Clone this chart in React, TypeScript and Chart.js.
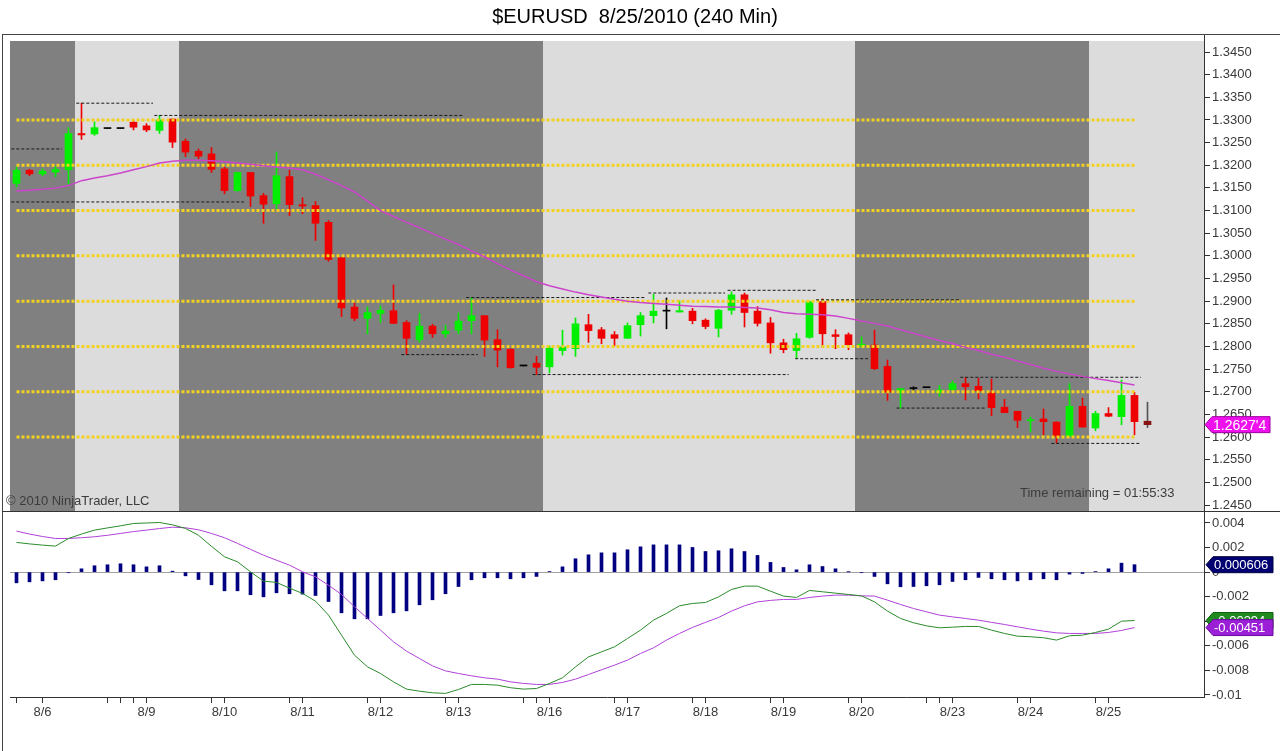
import React, { useEffect, useRef } from "react";
import { Chart, registerables } from "chart.js";

Chart.register(...registerables);

const FONT = '"Liberation Sans", Arial, sans-serif';
Chart.defaults.font.family = FONT;

// ---- data ----
const opens = [
  1.3160, 1.3189, 1.3181, 1.3185, 1.3190, 1.3270, 1.3269, 1.3281, 1.3281, 1.3295,
  1.3287, 1.3277, 1.3302, 1.3253, 1.3231, 1.3225, 1.3192, 1.3144, 1.3184, 1.3133,
  1.3115, 1.3175, 1.3113, 1.3111, 1.3074, 1.2996, 1.2887, 1.2862, 1.2873, 1.2879,
  1.2853, 1.2815, 1.2845, 1.2828, 1.2836, 1.2857, 1.2868, 1.2815, 1.2794, 1.2757,
  1.2763, 1.2755, 1.2791, 1.2795, 1.2848, 1.2837, 1.2826, 1.2818, 1.2848, 1.2868,
  1.2878, 1.2876, 1.2878, 1.2858, 1.2840, 1.2880, 1.2914, 1.2878, 1.2852, 1.2808,
  1.2791, 1.2820, 1.2899, 1.2826, 1.2826, 1.2802, 1.2803, 1.2756, 1.2699, 1.2707,
  1.2709, 1.2699, 1.2705, 1.2718, 1.2712, 1.2698, 1.2666, 1.2657, 1.2636, 1.2640,
  1.2633, 1.2602, 1.2668, 1.2620, 1.2652, 1.2645, 1.2692, 1.2635,
];
const highs = [
  1.3196, 1.3191, 1.3192, 1.3197, 1.3283, 1.3337, 1.3296, 1.3281, 1.3281, 1.3299,
  1.3292, 1.3310, 1.3303, 1.3258, 1.3236, 1.3239, 1.3196, 1.3185, 1.3184, 1.3138,
  1.3229, 1.3189, 1.3128, 1.3120, 1.3078, 1.2996, 1.2896, 1.2887, 1.2890, 1.2936,
  1.2857, 1.2873, 1.2849, 1.2847, 1.2874, 1.2908, 1.2868, 1.2837, 1.2795, 1.2757,
  1.2778, 1.2801, 1.2836, 1.2863, 1.2871, 1.2842, 1.2833, 1.2852, 1.2875, 1.2915,
  1.2907, 1.2901, 1.2884, 1.2861, 1.2882, 1.2921, 1.2918, 1.2888, 1.2864, 1.2816,
  1.2829, 1.2900, 1.2905, 1.2837, 1.2830, 1.2821, 1.2836, 1.2770, 1.2707, 1.2711,
  1.2709, 1.2714, 1.2724, 1.2732, 1.2730, 1.2728, 1.2683, 1.2657, 1.2644, 1.2662,
  1.2634, 1.2718, 1.2686, 1.2657, 1.2665, 1.2726, 1.2699, 1.2677,
];
const lows = [
  1.3152, 1.3177, 1.3177, 1.3175, 1.3159, 1.3257, 1.3266, 1.3281, 1.3281, 1.3278,
  1.3274, 1.3270, 1.3239, 1.3219, 1.3214, 1.3184, 1.3137, 1.3143, 1.3109, 1.3072,
  1.3104, 1.3089, 1.3093, 1.3034, 1.2988, 1.2866, 1.2857, 1.2828, 1.2853, 1.2851,
  1.2782, 1.2809, 1.2820, 1.2820, 1.2828, 1.2828, 1.2778, 1.2755, 1.2752, 1.2757,
  1.2738, 1.2742, 1.2781, 1.2778, 1.2809, 1.2806, 1.2801, 1.2818, 1.2823, 1.2852,
  1.2839, 1.2876, 1.2850, 1.2839, 1.2821, 1.2871, 1.2843, 1.2845, 1.2785, 1.2786,
  1.2774, 1.2818, 1.2798, 1.2795, 1.2793, 1.2798, 1.2749, 1.2681, 1.2664, 1.2703,
  1.2709, 1.2690, 1.2702, 1.2682, 1.2684, 1.2647, 1.2654, 1.2621, 1.2611, 1.2605,
  1.2587, 1.2601, 1.2622, 1.2614, 1.2645, 1.2627, 1.2605, 1.2621,
];
const closes = [
  1.3189, 1.3181, 1.3187, 1.3191, 1.3270, 1.3267, 1.3283, 1.3281, 1.3281, 1.3284,
  1.3278, 1.3300, 1.3251, 1.3229, 1.3220, 1.3191, 1.3144, 1.3184, 1.3132, 1.3114,
  1.3177, 1.3113, 1.3110, 1.3072, 1.2992, 1.2885, 1.2862, 1.2875, 1.2880, 1.2851,
  1.2818, 1.2845, 1.2828, 1.2834, 1.2856, 1.2868, 1.2814, 1.2792, 1.2753, 1.2757,
  1.2754, 1.2796, 1.2799, 1.2850, 1.2835, 1.2818, 1.2818, 1.2846, 1.2868, 1.2878,
  1.2878, 1.2879, 1.2857, 1.2844, 1.2880, 1.2914, 1.2875, 1.2851, 1.2808, 1.2793,
  1.2817, 1.2899, 1.2828, 1.2822, 1.2804, 1.2805, 1.2751, 1.2699, 1.2707, 1.2707,
  1.2709, 1.2704, 1.2718, 1.2711, 1.2702, 1.2665, 1.2654, 1.2637, 1.2638, 1.2634,
  1.2602, 1.2668, 1.2622, 1.2652, 1.2646, 1.2692, 1.2634, 1.26274,
];
const maValues = [
  1.3143, 1.3145, 1.3147, 1.3150, 1.3155, 1.3166, 1.3172, 1.3177, 1.3183, 1.3190,
  1.3197, 1.3205, 1.3209, 1.3211, 1.3211, 1.3210, 1.3208, 1.3205, 1.3202, 1.3199,
  1.3196, 1.3194, 1.3190, 1.3180, 1.3168, 1.3155, 1.3141, 1.3121, 1.3100, 1.3087,
  1.3074, 1.3062, 1.3049, 1.3037, 1.3025, 1.3011, 1.2998, 1.2983, 1.2969, 1.2956,
  1.2943, 1.2934, 1.2927, 1.2920, 1.2914, 1.2909, 1.2904, 1.2900, 1.2897, 1.2895,
  1.2893, 1.2891, 1.2889, 1.2888, 1.2887, 1.2887, 1.2886, 1.2885, 1.2881, 1.2875,
  1.2872, 1.2871, 1.2870, 1.2867, 1.2862, 1.2856, 1.2851, 1.2845, 1.2837, 1.2829,
  1.2821, 1.2813, 1.2806, 1.2798, 1.2791, 1.2783, 1.2776, 1.2768, 1.2760, 1.2752,
  1.2745, 1.2739, 1.2734, 1.2729, 1.2725, 1.2720, 1.2715, null,
];
const histValues = [
  -0.00087, -0.00079, -0.00071, -0.00062, -0.00005, 0.00027, 0.00052, 0.00060, 0.00068, 0.00060,
  0.00043, 0.00052, 0.00008, -0.00030, -0.00060, -0.00103, -0.00152, -0.00152, -0.00184, -0.00201,
  -0.00168, -0.00176, -0.00179, -0.00190, -0.00239, -0.00331, -0.00380, -0.00380, -0.00353, -0.00331,
  -0.00315, -0.00266, -0.00225, -0.00176, -0.00117, -0.00062, -0.00046, -0.00046, -0.00054, -0.00046,
  -0.00035, 0.00005, 0.00043, 0.00109, 0.00141, 0.00157, 0.00157, 0.00182, 0.00206, 0.00222,
  0.00222, 0.00222, 0.00201, 0.00168, 0.00174, 0.00190, 0.00168, 0.00136, 0.00079, 0.00038,
  0.00019, 0.00060, 0.00046, 0.00027, 0.00002, -0.00005, -0.00035, -0.00095, -0.00119, -0.00117,
  -0.00111, -0.00103, -0.00076, -0.00062, -0.00043, -0.00054, -0.00062, -0.00071, -0.00062, -0.00054,
  -0.00062, -0.00016, -0.00011, 0.00005, 0.00027, 0.00073, 0.000606, null,
];
const macdValues = [
  0.00242, 0.00230, 0.00220, 0.00212, 0.00274, 0.00310, 0.00342, 0.00360, 0.00377, 0.00396,
  0.00400, 0.00404, 0.00385, 0.00356, 0.00300, 0.00210, 0.00125, 0.00084, 0.00003, -0.00073,
  -0.00084, -0.00130, -0.00173, -0.00236, -0.00350, -0.00513, -0.00676, -0.00771, -0.00825, -0.00893,
  -0.00952, -0.00969, -0.00982, -0.00987, -0.00955, -0.00914, -0.00914, -0.00920, -0.00941, -0.00952,
  -0.00947, -0.00906, -0.00860, -0.00771, -0.00690, -0.00649, -0.00608, -0.00540, -0.00472, -0.00391,
  -0.00336, -0.00274, -0.00255, -0.00247, -0.00201, -0.00141, -0.00114, -0.00114, -0.00155, -0.00195,
  -0.00206, -0.00149, -0.00160, -0.00171, -0.00182, -0.00193, -0.00242, -0.00317, -0.00377, -0.00412,
  -0.00437, -0.00453, -0.00448, -0.00442, -0.00442, -0.00472, -0.00499, -0.00521, -0.00526, -0.00534,
  -0.00553, -0.00518, -0.00513, -0.00491, -0.00464, -0.00399, -0.00394, null,
];
const signalValues = [
  0.00334, 0.00310, 0.00290, 0.00274, 0.00274, 0.00280, 0.00288, 0.00300, 0.00315, 0.00330,
  0.00342, 0.00355, 0.00366, 0.00361, 0.00345, 0.00315, 0.00280, 0.00234, 0.00185, 0.00138,
  0.00097, 0.00057, 0.00003, -0.00038, -0.00106, -0.00182, -0.00282, -0.00377, -0.00472, -0.00567,
  -0.00643, -0.00703, -0.00763, -0.00804, -0.00825, -0.00844, -0.00860, -0.00871, -0.00893, -0.00906,
  -0.00914, -0.00914, -0.00898, -0.00871, -0.00833, -0.00795, -0.00757, -0.00716, -0.00662, -0.00616,
  -0.00553, -0.00499, -0.00450, -0.00409, -0.00369, -0.00317, -0.00274, -0.00242, -0.00230, -0.00222,
  -0.00222, -0.00206, -0.00195, -0.00187, -0.00187, -0.00193, -0.00195, -0.00228, -0.00263, -0.00296,
  -0.00323, -0.00350, -0.00364, -0.00377, -0.00391, -0.00409, -0.00426, -0.00445, -0.00464, -0.00480,
  -0.00494, -0.00499, -0.00499, -0.00499, -0.00491, -0.00475, -0.00451, null,
];

const priceTickValues = [
  1.345, 1.34, 1.335, 1.33, 1.325, 1.32, 1.315, 1.31, 1.305, 1.3, 1.295,
  1.29, 1.285, 1.28, 1.275, 1.27, 1.265, 1.26, 1.255, 1.25, 1.245,
];
const macdTickValues = [0.004, 0.002, 0, -0.002, -0.004, -0.006, -0.008, -0.01];
const dateTickBars = [0, 2, 7, 8, 9, 10, 15, 16, 21, 22, 27, 28, 33, 34, 39, 40, 41, 46, 47, 52, 53, 58, 59, 64, 65, 70, 71, 72, 77, 78, 83, 84];
const dateLabelBars = [2, 10, 16, 22, 28, 34, 41, 47, 53, 59, 65, 72, 78, 84];
const dateLabels = ["8/6", "8/9", "8/10", "8/11", "8/12", "8/13", "8/16", "8/17", "8/18", "8/19", "8/20", "8/23", "8/24", "8/25"];

const gridLevels = [1.26, 1.27, 1.28, 1.29, 1.3, 1.31, 1.32, 1.33];
const gridLevelStart = 0;
const gridLevelEnd = 86;

const levelPrices = [1.3236, 1.3337, 1.331, 1.3119, 1.2782, 1.2908, 1.2918, 1.2924, 1.2738, 1.2773, 1.2903, 1.2664, 1.2732, 1.2586];
const levelStarts = [-0.4, 4.6, 10.6, -0.4, 29.6, 34.6, 48.6, 54.7, 39.7, 59.9, 61.5, 67.7, 72.6, 79.6];
const levelEnds = [3.5, 10.5, 34.4, 17.5, 35.5, 48.4, 54.5, 61.5, 59.4, 65.5, 72.5, 74.5, 86.5, 86.5];

const darkBandStarts = [-0.5, 12.5, 64.5];
const darkBandEnds = [4.5, 40.5, 82.5];

const titleText = "$EURUSD  8/25/2010 (240 Min)";
const copyrightText = "\u00A9 2010 NinjaTrader, LLC";
const timeText = "Time remaining = 01:55:33";

// ---- layout constants ----
const X_MIN = -0.5;
const X_MAX = -0.5 + 1194 / 13;
const AXIS_W = 76;

const lastIdx = closes.length - 1;
function candleColor(i: number) {
  if (i === lastIdx) return "#8a1414";
  if (closes[i] > opens[i]) return "#00ee00";
  if (closes[i] < opens[i]) return "#ee0000";
  return "#000000";
}
function wickColor(i: number) {
  if (i === lastIdx) return "#555555";
  return candleColor(i);
}

function drawTag(ctx: CanvasRenderingContext2D, xLeft: number, yc: number, w: number, text: string, fill: string, stroke: string, size: number) {
  const h = 16;
  ctx.save();
  ctx.beginPath();
  ctx.moveTo(xLeft, yc);
  ctx.lineTo(xLeft + 7, yc - h / 2);
  ctx.lineTo(xLeft + w, yc - h / 2);
  ctx.lineTo(xLeft + w, yc + h / 2);
  ctx.lineTo(xLeft + 7, yc + h / 2);
  ctx.closePath();
  ctx.fillStyle = fill;
  ctx.fill();
  ctx.strokeStyle = stroke;
  ctx.lineWidth = 1;
  ctx.stroke();
  ctx.fillStyle = "#ffffff";
  ctx.font = `${size}px ${FONT}`;
  ctx.textBaseline = "middle";
  ctx.textAlign = "left";
  ctx.fillText(text, xLeft + 8, yc + 1);
  ctx.restore();
}

const pricePlugin = {
  id: "pricePanel",
  beforeDraw(chart: any) {
    const { ctx, chartArea } = chart;
    const { left, right, top, bottom } = chartArea;
    const x = chart.scales.x;
    ctx.save();
    ctx.fillStyle = "#dcdcdc";
    ctx.fillRect(left, top, right - left, bottom - top);
    ctx.fillStyle = "#808080";
    for (let k = 0; k < darkBandStarts.length; k++) {
      const x0 = Math.max(left, x.getPixelForValue(darkBandStarts[k]));
      const x1 = Math.min(right, x.getPixelForValue(darkBandEnds[k]));
      ctx.fillRect(x0, top, x1 - x0, bottom - top);
    }
    ctx.restore();
  },
  afterDraw(chart: any) {
    const { ctx, chartArea } = chart;
    const y = chart.scales.y;
    ctx.save();
    ctx.fillStyle = "#000000";
    ctx.font = `20px ${FONT}`;
    ctx.textAlign = "center";
    ctx.textBaseline = "middle";
    ctx.fillText(titleText, 635, 17);

    ctx.font = `13px ${FONT}`;
    ctx.textAlign = "left";
    ctx.textBaseline = "alphabetic";
    ctx.fillStyle = "#3c3c3c";
    ctx.fillText(copyrightText, 6, 505);
    ctx.fillText(timeText, 1020, 497);

    ctx.strokeStyle = "#333333";
    ctx.lineWidth = 1;
    ctx.beginPath();
    ctx.moveTo(Math.round(chartArea.right) + 0.5, 34);
    ctx.lineTo(Math.round(chartArea.right) + 0.5, chartArea.top);
    ctx.stroke();
    ctx.restore();

    const last = closes[lastIdx];
    const s = last.toFixed(5);
    const txt = s.slice(0, -1) + "'" + s.slice(-1);
    drawTag(ctx, chartArea.right + 1, y.getPixelForValue(last), 65, txt, "#ee11ee", "#a000a0", 14);
  },
};

const macdPlugin = {
  id: "macdPanel",
  afterDraw(chart: any) {
    const { ctx, chartArea } = chart;
    const y = chart.scales.y;
    const x0 = chartArea.right + 2;
    const mv = macdValues[lastIdx - 1] as number;
    const sv = signalValues[lastIdx - 1] as number;
    const hv = histValues[lastIdx - 1] as number;
    drawTag(ctx, x0, y.getPixelForValue(mv), 67, mv.toPrecision(3), "#1f8a1f", "#0f5f0f", 13);
    drawTag(ctx, x0, y.getPixelForValue(sv), 67, sv.toPrecision(3), "#9a1fd6", "#6a0aa0", 13);
    drawTag(ctx, x0, y.getPixelForValue(hv), 67, hv.toPrecision(3), "#000070", "#000040", 13);
  },
};

function priceConfig(): any {
  const datasets: any[] = [];
  datasets.push({
    type: "bar",
    data: lows.map((l, i) => ({ x: i, y: [l, highs[i]] })),
    backgroundColor: lows.map((_, i) => wickColor(i)),
    barThickness: 1,
    grouped: false,
    order: 20,
  });
  datasets.push({
    type: "bar",
    data: opens.map((o, i) => ({ x: i, y: [o, closes[i]] })),
    backgroundColor: opens.map((_, i) => candleColor(i)),
    barThickness: 7,
    minBarLength: 1,
    grouped: false,
    order: 10,
  });
  gridLevels.forEach((p) => {
    datasets.push({
      type: "line",
      data: [{ x: gridLevelStart, y: p }, { x: gridLevelEnd, y: p }],
      borderColor: "#f3d11e",
      borderWidth: 3,
      borderDash: [3, 2],
      pointRadius: 0,
      order: 3,
    });
  });
  levelPrices.forEach((p, k) => {
    datasets.push({
      type: "line",
      data: [{ x: levelStarts[k], y: p }, { x: levelEnds[k], y: p }],
      borderColor: "#1a1a1a",
      borderWidth: 1,
      borderDash: [3, 2],
      pointRadius: 0,
      order: 2,
    });
  });
  datasets.push({
    type: "line",
    data: maValues.map((v, i) => ({ x: i, y: v })),
    borderColor: "#cc44cc",
    borderWidth: 1.5,
    pointRadius: 0,
    tension: 0,
    order: 1,
  });
  return {
    type: "bar",
    data: { datasets },
    options: {
      responsive: false,
      animation: false,
      events: [],
      layout: { padding: { top: 41, left: 10, right: 0, bottom: 1 } },
      plugins: { legend: { display: false }, tooltip: { enabled: false }, title: { display: false } },
      scales: {
        x: { type: "linear", display: false, min: X_MIN, max: X_MAX, offset: false, grid: { offset: false } },
        y: {
          type: "linear",
          position: "right",
          min: 1.24368,
          max: 1.34743,
          beginAtZero: false,
          afterBuildTicks: (s: any) => {
            s.ticks = priceTickValues.map((v) => ({ value: v }));
          },
          afterFit: (s: any) => {
            s.width = AXIS_W;
            s.paddingTop = 0;
            s.paddingBottom = 0;
          },
          ticks: {
            autoSkip: false,
            padding: 2,
            color: "#3a3a3a",
            font: { family: FONT, size: 13 },
            callback: (v: any) => Number(v).toFixed(4),
          },
          grid: { drawOnChartArea: false, drawTicks: true, tickLength: 6, tickColor: "#333333", color: "#333333" },
          border: { display: true, color: "#333333" },
        },
      },
    },
    plugins: [pricePlugin],
  };
}

function macdConfig(): any {
  return {
    type: "bar",
    data: {
      datasets: [
        {
          type: "line",
          data: macdValues.map((v, i) => ({ x: i, y: v })),
          borderColor: "#2a8a2a",
          borderWidth: 1,
          pointRadius: 0,
          order: 1,
        },
        {
          type: "line",
          data: signalValues.map((v, i) => ({ x: i, y: v })),
          borderColor: "#b040d8",
          borderWidth: 1,
          pointRadius: 0,
          order: 1,
        },
        {
          type: "bar",
          data: histValues.map((v, i) => ({ x: i, y: v })),
          backgroundColor: "#000080",
          barThickness: 3,
          grouped: false,
          order: 5,
        },
      ],
    },
    options: {
      responsive: false,
      animation: false,
      events: [],
      layout: { padding: { top: 1, left: 10, right: 0, bottom: 0 } },
      plugins: { legend: { display: false }, tooltip: { enabled: false }, title: { display: false } },
      scales: {
        x: {
          type: "linear",
          position: "bottom",
          min: X_MIN,
          max: X_MAX,
          offset: false,
          afterBuildTicks: (s: any) => {
            s.ticks = dateTickBars.map((v) => ({ value: v }));
          },
          afterFit: (s: any) => {
            s.height = 54;
            s.paddingLeft = 0;
            s.paddingRight = 0;
          },
          ticks: {
            autoSkip: false,
            maxRotation: 0,
            minRotation: 0,
            padding: 2,
            color: "#3a3a3a",
            font: { family: FONT, size: 13 },
            callback: (v: any) => {
              const k = dateLabelBars.indexOf(Number(v));
              return k >= 0 ? dateLabels[k] : "";
            },
          },
          grid: { drawOnChartArea: false, drawTicks: true, tickLength: 6, tickColor: "#333333", color: "#333333", offset: false },
          border: { display: true, color: "#333333" },
        },
        y: {
          type: "linear",
          position: "right",
          min: -0.010163,
          max: 0.004895,
          beginAtZero: false,
          afterBuildTicks: (s: any) => {
            s.ticks = macdTickValues.map((v) => ({ value: v }));
          },
          afterFit: (s: any) => {
            s.width = AXIS_W;
            s.paddingTop = 0;
            s.paddingBottom = 0;
          },
          ticks: {
            autoSkip: false,
            padding: 2,
            color: "#3a3a3a",
            font: { family: FONT, size: 13 },
            callback: (v: any) => {
              const r = Math.round(Number(v) * 1000) / 1000;
              return r === 0 ? "0" : String(r);
            },
          },
          grid: {
            drawOnChartArea: true,
            drawTicks: true,
            tickLength: 6,
            tickColor: "#333333",
            color: (ctx: any) => (ctx.tick && ctx.tick.value === 0 ? "#a0a0a0" : "rgba(0,0,0,0)"),
          },
          border: { display: true, color: "#333333" },
        },
      },
    },
    plugins: [macdPlugin],
  };
}

export default function App() {
  const priceRef = useRef<HTMLCanvasElement>(null);
  const macdRef = useRef<HTMLCanvasElement>(null);

  useEffect(() => {
    const pc = new Chart(priceRef.current as HTMLCanvasElement, priceConfig());
    const mc = new Chart(macdRef.current as HTMLCanvasElement, macdConfig());
    return () => {
      pc.destroy();
      mc.destroy();
    };
  }, []);

  return (
    <div style={{ position: "fixed", left: 0, top: 0, width: 1280, height: 751, background: "#ffffff", overflow: "hidden" }}>
      <canvas ref={priceRef} width={1280} height={512} style={{ position: "absolute", left: 0, top: 0, width: 1280, height: 512 }} />
      <canvas ref={macdRef} width={1280} height={240} style={{ position: "absolute", left: 0, top: 511, width: 1280, height: 240 }} />
      <div style={{ position: "absolute", left: 2, top: 34, width: 1278, height: 717, borderTop: "1px solid #444", borderLeft: "1px solid #444", boxSizing: "border-box", pointerEvents: "none" }} />
      <div style={{ position: "absolute", left: 2, top: 511, width: 1278, height: 0, borderTop: "1px solid #333", pointerEvents: "none" }} />
    </div>
  );
}
